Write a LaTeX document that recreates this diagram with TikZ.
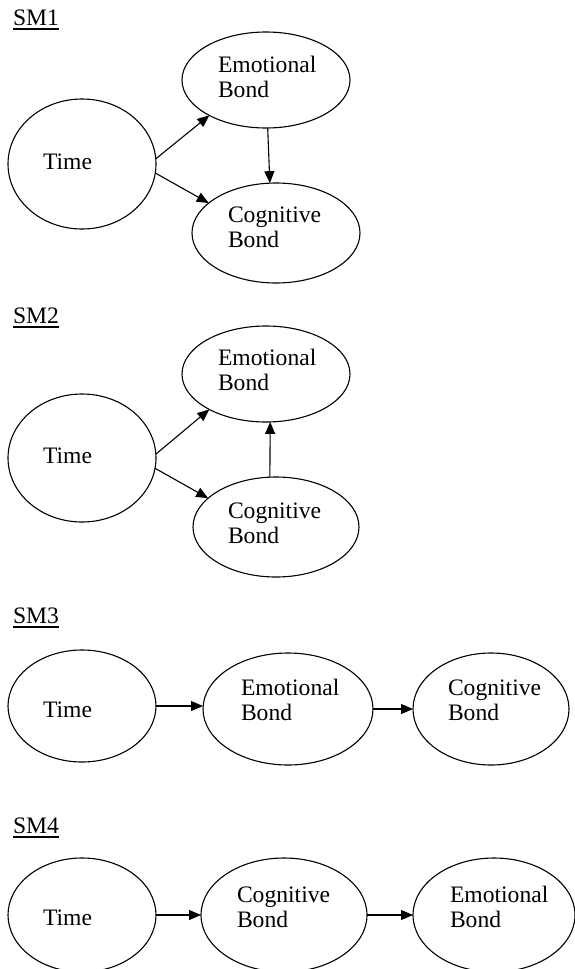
\documentclass[tikz,border=0pt]{standalone}
\usepackage{fontspec}
\setmainfont{Liberation Serif}
\usetikzlibrary{arrows.meta,shapes.geometric}
\begin{document}
\begin{tikzpicture}[x=1pt,y=-1pt,
  every node/.style={inner sep=0pt, outer sep=0pt},
  ell/.style={draw, ellipse, line width=1.1pt},
  txt/.style={anchor=base west, font=\fontsize{23.6}{25}\selectfont},
  arr/.style={-{Triangle[length=12pt,width=10pt]}, line width=1.1pt},
  uline/.style={line width=1.2pt}]
\clip (0,0) rectangle (575,969);
\useasboundingbox (0,0) rectangle (575,969);
% ---------------- SM1
\node[txt] (l1) at (13,25) {SM1};
\draw[uline] ([yshift=-4pt]l1.base west) -- ([yshift=-4pt]l1.base east);
\node[ell, minimum width=148pt, minimum height=130pt] (t1) at (82,164) {};
\node[ell, minimum width=168pt, minimum height=96pt] (e1) at (266,80) {};
\node[ell, minimum width=168pt, minimum height=100pt] (c1) at (276,233) {};
\node[txt] (t1x) at (43,169) {Time};
\node[txt] (e1x) at (218,72) {\begin{tabular}[t]{@{}l@{}}Emotional\\Bond\end{tabular}};
\node[txt] (c1x) at (228,222) {\begin{tabular}[t]{@{}l@{}}Cognitive\\Bond\end{tabular}};
\draw[arr] (t1.4) -- (e1.212);
\draw[arr] (t1.-7) -- (c1.156);
\draw[arr] (e1.-88) -- (c1.97);
% ---------------- SM2
\node[txt] (l2) at (13,323) {SM2};
\draw[uline] ([yshift=-4pt]l2.base west) -- ([yshift=-4pt]l2.base east);
\node[ell, minimum width=148pt, minimum height=128pt] (t2) at (82,458) {};
\node[ell, minimum width=168pt, minimum height=96pt] (e2) at (266,374) {};
\node[ell, minimum width=166pt, minimum height=100pt] (c2) at (276,527) {};
\node[txt] (t2x) at (43,463) {Time};
\node[txt] (e2x) at (218,365) {\begin{tabular}[t]{@{}l@{}}Emotional\\Bond\end{tabular}};
\node[txt] (c2x) at (228,518) {\begin{tabular}[t]{@{}l@{}}Cognitive\\Bond\end{tabular}};
\draw[arr] (t2.3) -- (e2.212);
\draw[arr] (t2.-8) -- (c2.157);
\draw[arr] (c2.97) -- (e2.-85);
% ---------------- SM3
\node[txt] (l3) at (13,623) {SM3};
\draw[uline] ([yshift=-4pt]l3.base west) -- ([yshift=-4pt]l3.base east);
\node[ell, minimum width=148pt, minimum height=112pt] (t3) at (82,706) {};
\node[ell, minimum width=170pt, minimum height=112pt] (e3) at (288,709) {};
\node[ell, minimum width=156pt, minimum height=112pt] (c3) at (491,709) {};
\node[txt] (t3x) at (43,717) {Time};
\node[txt] (e3x) at (241,695) {\begin{tabular}[t]{@{}l@{}}Emotional\\Bond\end{tabular}};
\node[txt] (c3x) at (448,695) {\begin{tabular}[t]{@{}l@{}}Cognitive\\Bond\end{tabular}};
\draw[arr] (t3.east) -- (t3.east -| e3.west);
\draw[arr] (e3.east) -- (c3.west);
% ---------------- SM4
\node[txt] (l4) at (13,833) {SM4};
\draw[uline] ([yshift=-4pt]l4.base west) -- ([yshift=-4pt]l4.base east);
\node[ell, minimum width=148pt, minimum height=114pt] (t4) at (82,915) {};
\node[ell, minimum width=166pt, minimum height=114pt] (c4) at (284,915) {};
\node[ell, minimum width=162pt, minimum height=114pt] (e4) at (494,915) {};
\node[txt] (t4x) at (43,925) {Time};
\node[txt] (c4x) at (237,902) {\begin{tabular}[t]{@{}l@{}}Cognitive\\Bond\end{tabular}};
\node[txt] (e4x) at (450,902) {\begin{tabular}[t]{@{}l@{}}Emotional\\Bond\end{tabular}};
\draw[arr] (t4.east) -- (c4.west);
\draw[arr] (c4.east) -- (e4.west);
\end{tikzpicture}
\end{document}
